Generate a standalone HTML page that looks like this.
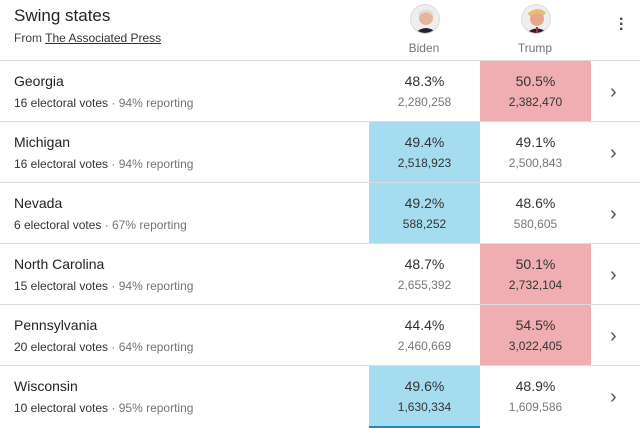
<!DOCTYPE html>
<html><head><meta charset="utf-8"><style>
*{margin:0;padding:0;box-sizing:border-box}
body{width:640px;height:428px;background:#fff;font-family:"Liberation Sans",Arial,sans-serif;position:relative;overflow:hidden;color:#222}
.abs{position:absolute}
.title{left:14px;top:6px;font-size:17px;color:#222}
.src{left:14px;top:31px;font-size:12px;color:#444}
.src u{color:#333}
.av{width:30px;height:30px;border-radius:50%;border:1px solid #ddd;overflow:hidden;background:#eee}
.cname{font-size:12px;color:#70757a;width:110px;text-align:center}
.row{position:absolute;left:0;width:640px;height:61px;border-top:1px solid #dadce0}
.st{position:absolute;left:14px;top:12px;font-size:14px;color:#222}
.sub{position:absolute;left:14px;top:35px;font-size:12px;color:#333}
.sub span{color:#70757a}
.cell{position:absolute;top:0;width:111px;height:60px;text-align:center}
.pct{font-size:14px;margin-top:12px;color:#333}
.cnt{font-size:12px;margin-top:6px;color:#777}
.win .cnt{color:#333}
.chev{position:absolute;left:610px;top:20px;font-size:20px;color:#555}
</style></head><body>
<div class="abs title">Swing states</div>
<div class="abs src">From <u>The Associated Press</u></div>
<div class="abs av" style="left:410px;top:4px"><svg width="30" height="30"><circle cx="15" cy="13" r="7" fill="#e8b59a"/><path d="M2 30 Q15 16 28 30Z" fill="#223"/><path d="M8 9 Q15 3 22 9" stroke="#ddd" stroke-width="3" fill="none"/></svg></div>
<div class="abs av" style="left:521px;top:4px"><svg width="30" height="30"><circle cx="15" cy="14" r="7" fill="#e5a98a"/><path d="M2 30 Q15 17 28 30Z" fill="#223"/><rect x="14" y="22" width="2" height="8" fill="#c22"/><path d="M7 10 Q15 3 23 9" stroke="#e2c070" stroke-width="4" fill="none"/></svg></div>
<div class="abs cname" style="left:369px;top:41px">Biden</div>
<div class="abs cname" style="left:480px;top:41px">Trump</div>
<div class="abs" style="left:619px;top:17px;font-size:16px;font-weight:bold;color:#444;line-height:5px">·<br>·<br>·</div>
<div id="rows"></div>
<div class="abs" style="left:369px;top:426px;width:111px;height:2px;background:#1a8cc4"></div>
<script>
const states=["Georgia","Michigan","Nevada","North Carolina","Pennsylvania","Wisconsin"];
const electoral=[16,16,6,15,20,10];
const reporting=[94,94,67,94,64,95];
const bidenPct=["48.3","49.4","49.2","48.7","44.4","49.6"];
const bidenVotes=["2,280,258","2,518,923","588,252","2,655,392","2,460,669","1,630,334"];
const trumpPct=["50.5","49.1","48.6","50.1","54.5","48.9"];
const trumpVotes=["2,382,470","2,500,843","580,605","2,732,104","3,022,405","1,609,586"];
const root=document.getElementById('rows');
states.forEach((s,i)=>{
 const r=document.createElement('div');
 r.className='row';
 r.style.top=(60+i*61)+'px';
 
 
 const bw=parseFloat(bidenPct[i])>parseFloat(trumpPct[i]);
 r.innerHTML=`<div class="st">${s}</div><div class="sub">${electoral[i]} electoral votes <span>· ${reporting[i]}% reporting</span></div>
 <div class="cell ${bw?'win':''}" style="left:369px;background:${bw?'#a6dcf0':'transparent'}"><div class="pct">${bidenPct[i]}%</div><div class="cnt">${bidenVotes[i]}</div></div>
 <div class="cell ${!bw?'win':''}" style="left:480px;background:${!bw?'#f0aeb2':'transparent'}"><div class="pct">${trumpPct[i]}%</div><div class="cnt">${trumpVotes[i]}</div></div>
 <div class="chev">&#x203A;</div>`;
 root.appendChild(r);
});
</script>
</body></html>
